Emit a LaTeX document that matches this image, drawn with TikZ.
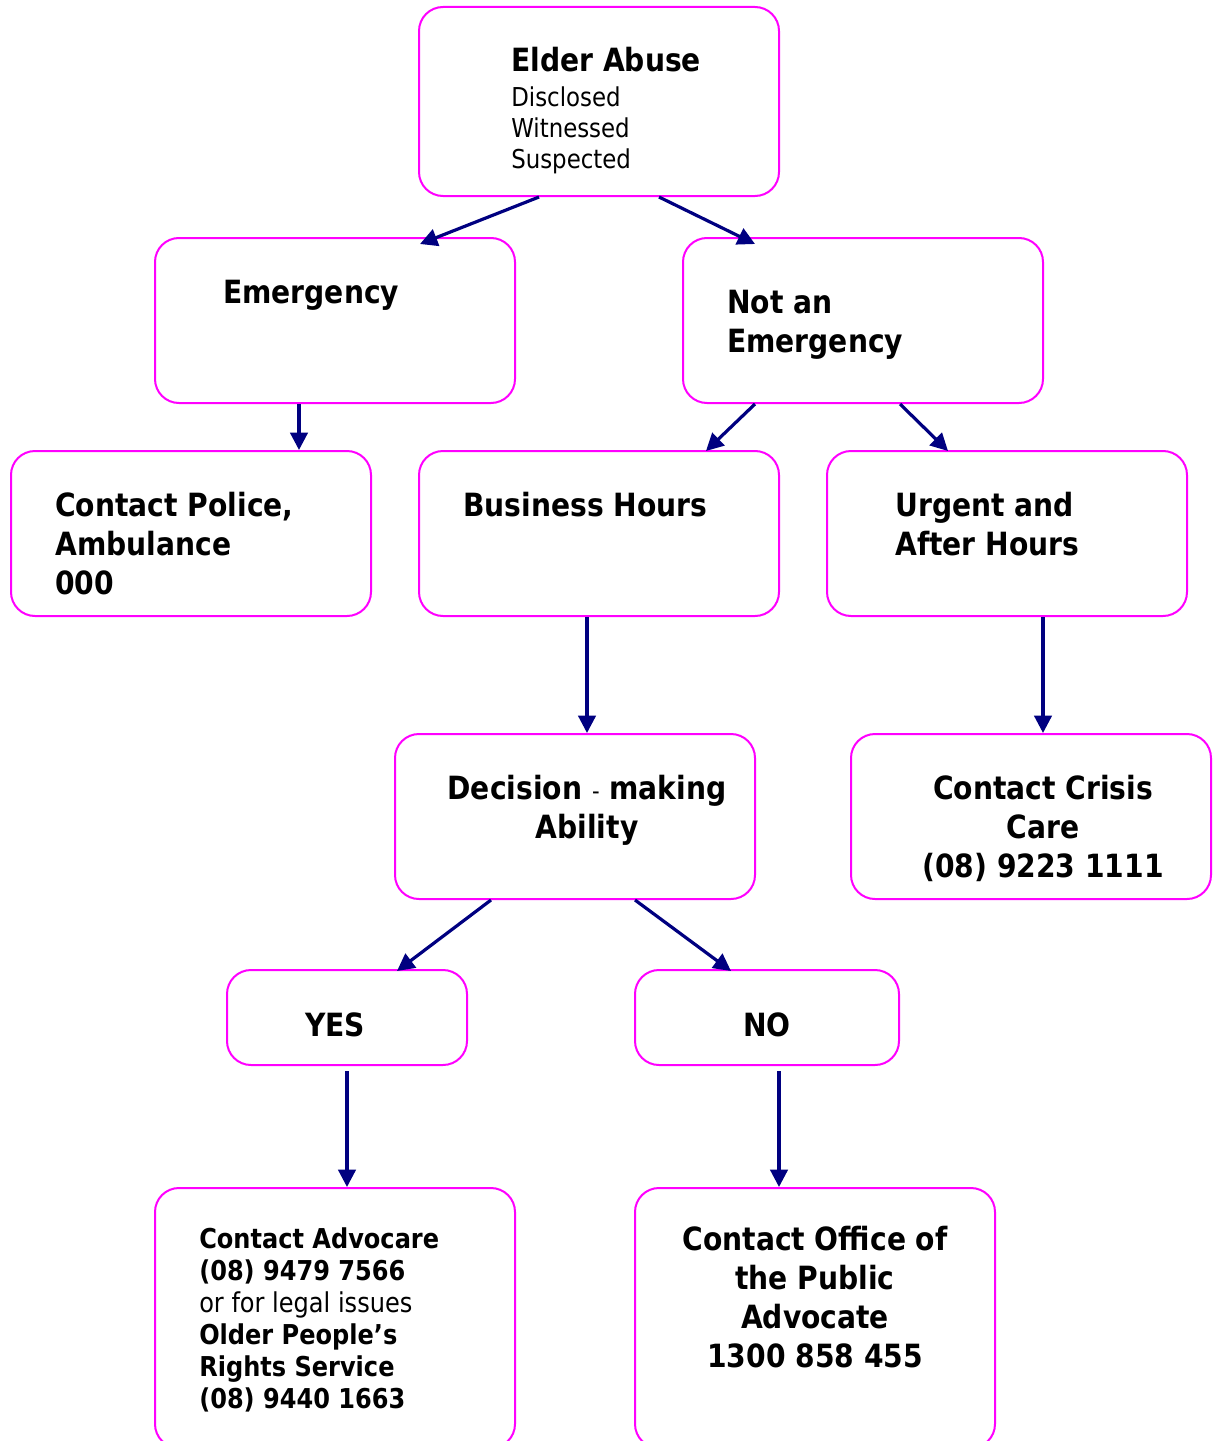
\documentclass[tikz,border=0pt]{standalone}
\usepackage{fontspec}
\setmainfont{DejaVu Sans}[FakeStretch=0.88]
\usetikzlibrary{arrows.meta,calc}
\definecolor{boxpink}{RGB}{255,0,255}
\definecolor{arrnavy}{RGB}{0,0,128}
\tikzset{
  box/.style={draw=boxpink, line width=1.5pt, rounded corners=18pt, fill=white, inner sep=0pt},
  conn/.style={draw=arrnavy, line width=2.4pt, -{Triangle[length=13pt,width=13pt]}},
  bigtxt/.style={font=\bfseries\fontsize{24}{29.25}\selectfont, inner sep=0pt},
  regtxt/.style={font=\fontsize{19.5}{23.6}\selectfont, inner sep=0pt},
  smalltxt/.style={font=\bfseries\fontsize{20.5}{24}\selectfont, inner sep=0pt}
}
\begin{document}
\begin{tikzpicture}[x=0.75pt,y=-0.75pt]
\useasboundingbox (0,0) rectangle (1216,1441);
\clip (0,0) rectangle (1216,1441);
% boxes
\node[box, minimum width=270pt, minimum height=141.75pt] (elder) at (599,101.5) {};
\node[box, minimum width=270pt, minimum height=123.75pt] (emerg) at (335,320.5) {};
\node[box, minimum width=270pt, minimum height=123.75pt] (notem) at (863,320.5) {};
\node[box, minimum width=270pt, minimum height=123.75pt] (police) at (191,533.5) {};
\node[box, minimum width=270pt, minimum height=123.75pt] (business) at (599,533.5) {};
\node[box, minimum width=270pt, minimum height=123.75pt] (urgent) at (1007,533.5) {};
\node[box, minimum width=270pt, minimum height=123.75pt] (decision) at (575,816.5) {};
\node[box, minimum width=270pt, minimum height=123.75pt] (crisis) at (1031,816.5) {};
\node[box, minimum width=180pt, minimum height=71.25pt] (yes) at (347,1017.5) {};
\node[box, minimum width=198pt, minimum height=71.25pt] (no) at (767,1017.5) {};
\node[box, minimum width=270pt, minimum height=195pt] (advocare) at (335,1318) {};
\node[box, minimum width=270pt, minimum height=195pt] (opa) at (815,1318) {};
% texts (multi-line nodes: base anchor = last line)
\node[bigtxt, anchor=base west] (elderT) at (511,72) {Elder Abuse};
\node[regtxt, anchor=base west, align=left] (elderS) at (511,169) {Disclosed\\Witnessed\\Suspected};
\node[bigtxt, anchor=base west] (emergT) at (223,303) {Emergency};
\node[bigtxt, anchor=base west, align=left] (notemT) at (727,352) {Not an\\Emergency};
\node[bigtxt, anchor=base west, align=left] (policeT) at (55,594) {Contact Police,\\Ambulance\\000};
\node[bigtxt, anchor=base west] (businessT) at (463,516) {Business Hours};
\node[bigtxt, anchor=base west, align=left] (urgentT) at (895,555) {Urgent and\\After Hours};
\node[bigtxt, anchor=base, align=center] (decisionT) at (587,838) {Decision {\mdseries\fontsize{18}{20}\selectfont -} making\\Ability};
\node[bigtxt, anchor=base, align=center] (crisisT) at (1043,877) {Contact Crisis\\Care\\(08) 9223 1111};
\node[bigtxt, anchor=base] (yesT) at (335,1036) {YES};
\node[bigtxt, anchor=base] (noT) at (767,1036) {NO};
\node[smalltxt, anchor=base west, align=left] (advT) at (199,1408) {Contact Advocare\\(08) 9479 7566\\{\mdseries or for legal issues}\\Older People’s\\Rights Service\\(08) 9440 1663};
\node[bigtxt, anchor=base, align=center] (opaT) at (815,1367) {Contact Office of\\the Public\\Advocate\\1300 858 455};
% connectors
\draw[conn] ($(elder.south)+(-60,0)$) -- ($(emerg.north)+(85,7)$);
\draw[conn] ($(elder.south)+(60,0)$) -- ($(notem.north)+(-108,7)$);
\draw[conn] ($(emerg.south)+(-36,0)$) -- ($(police.north)+(108,0)$);
\draw[conn] ($(notem.south)+(-108,0)$) -- ($(business.north)+(107,1)$);
\draw[conn] ($(notem.south)+(37,0)$) -- ($(urgent.north)+(-59,1)$);
\draw[conn] ($(business.south)+(-12,0)$) -- ($(decision.north)+(12,0)$);
\draw[conn] ($(urgent.south)+(36,0)$) -- ($(crisis.north)+(12,0)$);
\draw[conn] ($(decision.south)+(-84,0)$) -- ($(yes.north)+(50,2)$);
\draw[conn] ($(decision.south)+(60,0)$) -- ($(no.north)+(-36,2)$);
\draw[conn] ($(yes.south)+(0,5)$) -- ($(advocare.north)+(12,0)$);
\draw[conn] ($(no.south)+(12,5)$) -- ($(opa.north)+(-36,0)$);
\end{tikzpicture}
\end{document}
